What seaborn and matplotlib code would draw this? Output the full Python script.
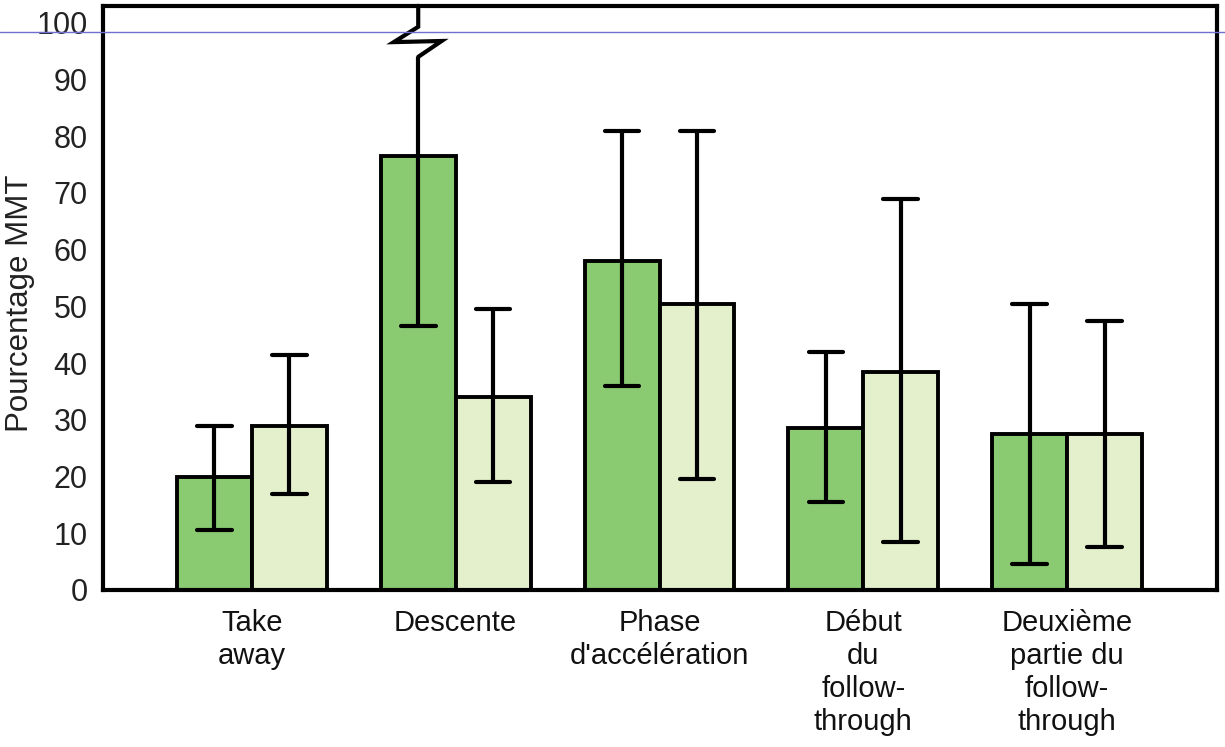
import numpy as np
import pandas as pd
import matplotlib
matplotlib.use("Agg")
import matplotlib.pyplot as plt
from matplotlib.lines import Line2D
import seaborn as sns

# ---- data ----
categories = ["Take\naway", "Descente", "Phase\nd'accélération",
              "Début\ndu\nfollow-\nthrough", "Deuxième\npartie du\nfollow-\nthrough"]
series_names = ["A", "B"]
values_a = [20, 76.5, 58, 28.5, 27.5]
values_b = [29, 34, 50.5, 38.5, 27.5]
low_a = [10.5, 46.5, 36, 15.5, 4.5]
high_a = [29, 110, 81, 42, 50.5]
low_b = [17, 19, 19.5, 8.5, 7.5]
high_b = [41.5, 49.5, 81, 69, 47.5]
y_ticks = [0, 10, 20, 30, 40, 50, 60, 70, 80, 90, 100]

dark = "#8acb72"
light = "#e3f0cb"

sns.set_theme(style="white")
plt.rcParams["font.family"] = ["Liberation Sans", "DejaVu Sans"]
plt.rcParams["text.color"] = "black"
plt.rcParams["axes.labelcolor"] = "black"
plt.rcParams["xtick.color"] = "black"
plt.rcParams["ytick.color"] = "black"

df = pd.DataFrame({
    "cat": categories * 2,
    "serie": [series_names[0]] * 5 + [series_names[1]] * 5,
    "val": values_a + values_b,
})

fig = plt.figure(figsize=(12.25, 7.47), dpi=100)
ax = fig.add_axes([0.0841, 0.2102, 0.9094, 0.782])

sns.barplot(data=df, x="cat", y="val", hue="serie", order=categories,
            hue_order=series_names, palette=[dark, light], errorbar=None,
            width=0.735, edgecolor="black", linewidth=2.8, ax=ax, legend=False,
            saturation=1)

ax.set_xlim(-0.73, len(categories) - 1 + 0.735)
ax.set_ylim(0, 103)
ax.set_yticks(y_ticks)
ax.tick_params(axis="y", length=0, pad=11, labelsize=22, labelcolor="#222222")
ax.tick_params(axis="x", length=0, pad=14, labelcolor="#111111")
ax.set_xticks(range(len(categories)))
ax.set_xticklabels(categories, fontsize=21, family=["Liberation Sans Narrow", "Liberation Sans"],
                   linespacing=1.22, va="top")
ax.set_xlabel("")
ax.set_ylabel("Pourcentage MMT", fontsize=22.5, color="#222222")
ax.yaxis.set_label_coords(-0.061, 0.49)
for s in ax.spines.values():
    s.set_visible(True)
    s.set_color("black")
    s.set_linewidth(3)

# bar centers from patches
patches = [p for p in ax.patches if p.get_height() > 0]
patches.sort(key=lambda p: p.get_x())
centers = [p.get_x() + p.get_width() / 2 for p in patches]
lows = []
highs = []
for i in range(len(categories)):
    lows += [low_a[i], low_b[i]]
    highs += [high_a[i], high_b[i]]

cap = 0.085
lw = 3
top = ax.get_ylim()[1]
for k, (cx, lo, hi) in enumerate(zip(centers, lows, highs)):
    if hi > top:
        # broken error bar (Descente, first series)
        brk = 94
        ax.plot([cx, cx], [lo, brk], color="black", lw=lw, solid_capstyle="butt", zorder=5)
        ax.plot([cx - cap, cx + cap], [lo, lo], color="black", lw=lw, zorder=5)
        ax.plot([cx, cx + 0.115, cx - 0.12, cx, cx],
                [brk, 96.8, 96.6, 99.3, top], color="black", lw=lw,
                solid_joinstyle="miter", zorder=5, clip_on=False)
    else:
        ax.plot([cx, cx], [lo, hi], color="black", lw=lw, solid_capstyle="butt", zorder=5)
        ax.plot([cx - cap, cx + cap], [lo, lo], color="black", lw=lw, zorder=5)
        ax.plot([cx - cap, cx + cap], [hi, hi], color="black", lw=lw, zorder=5)

# scan artefact line
fig.add_artist(Line2D([0, 1], [1 - 32 / 747, 1 - 32 / 747], color="#7070cc", lw=1))

fig.savefig("out.png", dpi=100)
